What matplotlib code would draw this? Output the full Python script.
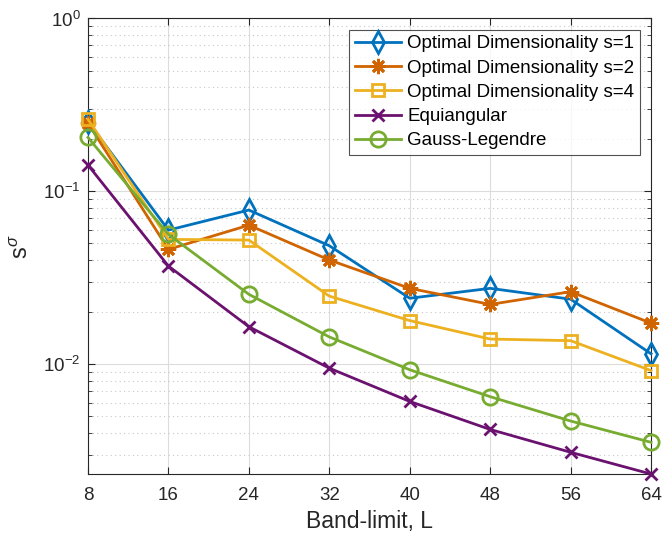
import matplotlib
matplotlib.use("Agg")
import matplotlib.pyplot as plt
from matplotlib.ticker import LogLocator, NullFormatter, FixedLocator

plt.rcParams["font.family"] = ["Liberation Sans", "DejaVu Sans"]
plt.rcParams["mathtext.fontset"] = "custom"
plt.rcParams["mathtext.rm"] = "Liberation Sans"
plt.rcParams["mathtext.it"] = "Liberation Sans:italic"

# ---------------------------------------------------------------------------
# Data
# ---------------------------------------------------------------------------
band_limit = [8, 16, 24, 32, 40, 48, 56, 64]

opt_s1 = [0.253, 0.0597, 0.078, 0.0485, 0.0241, 0.0275, 0.0238, 0.0115]
opt_s2 = [0.248, 0.0462, 0.0638, 0.0401, 0.0275, 0.0222, 0.0263, 0.0173]
opt_s4 = [0.261, 0.0528, 0.0523, 0.0248, 0.0179, 0.0140, 0.0137, 0.0092]
equiangular = [0.142, 0.037, 0.0165, 0.0095, 0.0061, 0.0042, 0.0031, 0.00232]
gauss_legendre = [0.205, 0.0564, 0.0254, 0.0144, 0.0093, 0.0065, 0.0047, 0.00354]

labels = ["Optimal Dimensionality s=1", "Optimal Dimensionality s=2",
          "Optimal Dimensionality s=4", "Equiangular", "Gauss-Legendre"]
ytick_vals = [1e-2, 1e-1, 1e0]
ytick_labels = [r"$10^{-2}$", r"$10^{-1}$", r"$10^{0}$"]

colors = ["#0072BD", "#D06400", "#EDB120", "#6B116F", "#77AC30"]
markers = ["d", (8, 2, 0), "s", "x", "o"]
msizes = [11, 11, 9, 8, 11]
hollow = [True, False, True, False, True]

fig = plt.figure(figsize=(6.64, 5.43), dpi=100)
ax = fig.add_axes([0.1325, 0.127, 0.848, 0.839])

series = [opt_s1, opt_s2, opt_s4, equiangular, gauss_legendre]
for vals, lab, c, m, ms, h in zip(series, labels, colors, markers, msizes, hollow):
    ax.plot(band_limit, vals, color=c, marker=m, markersize=ms, linewidth=2,
            markerfacecolor="none" if h else c, markeredgewidth=2,
            label=lab, clip_on=False, zorder=3)

ax.set_yscale("log")
ax.set_xlim(band_limit[0], band_limit[-1])
ax.set_ylim(min(equiangular), 1)
ax.set_xticks(band_limit)
ax.yaxis.set_major_locator(FixedLocator(ytick_vals))
ax.set_yticklabels(ytick_labels)
ax.yaxis.set_minor_locator(LogLocator(base=10, subs=range(2, 10)))
ax.yaxis.set_minor_formatter(NullFormatter())

ax.grid(True, which="major", color="#dcdcdc", linewidth=0.8, linestyle="-")
ax.grid(True, which="minor", axis="y", color="#c8c8c8", linewidth=0.8, linestyle=(0, (1, 3)))
ax.set_axisbelow(True)

ax.tick_params(which="both", direction="in", top=True, right=True,
               colors="#262626", labelsize=13.5)
ax.tick_params(which="major", length=5)
ax.tick_params(which="minor", length=3)
ax.tick_params(axis="x", which="major", pad=9)
ax.tick_params(axis="y", which="major", pad=5.5)
for sp in ax.spines.values():
    sp.set_color("#262626")
    sp.set_linewidth(0.8)

ax.set_xlabel("Band-limit, L", fontsize=16.5, color="#262626", labelpad=5)
ax.set_ylabel(r"$\mathrm{s}^{\sigma}$", fontsize=17, color="#262626", labelpad=7)

leg = ax.legend(loc="upper right", fontsize=13.5, frameon=True, fancybox=False,
                edgecolor="#262626", borderpad=0.3, labelspacing=0.38,
                handlelength=2.5, handletextpad=0.3, borderaxespad=0.6)
leg.get_frame().set_linewidth(0.8)

fig.savefig("out.png", dpi=100)
